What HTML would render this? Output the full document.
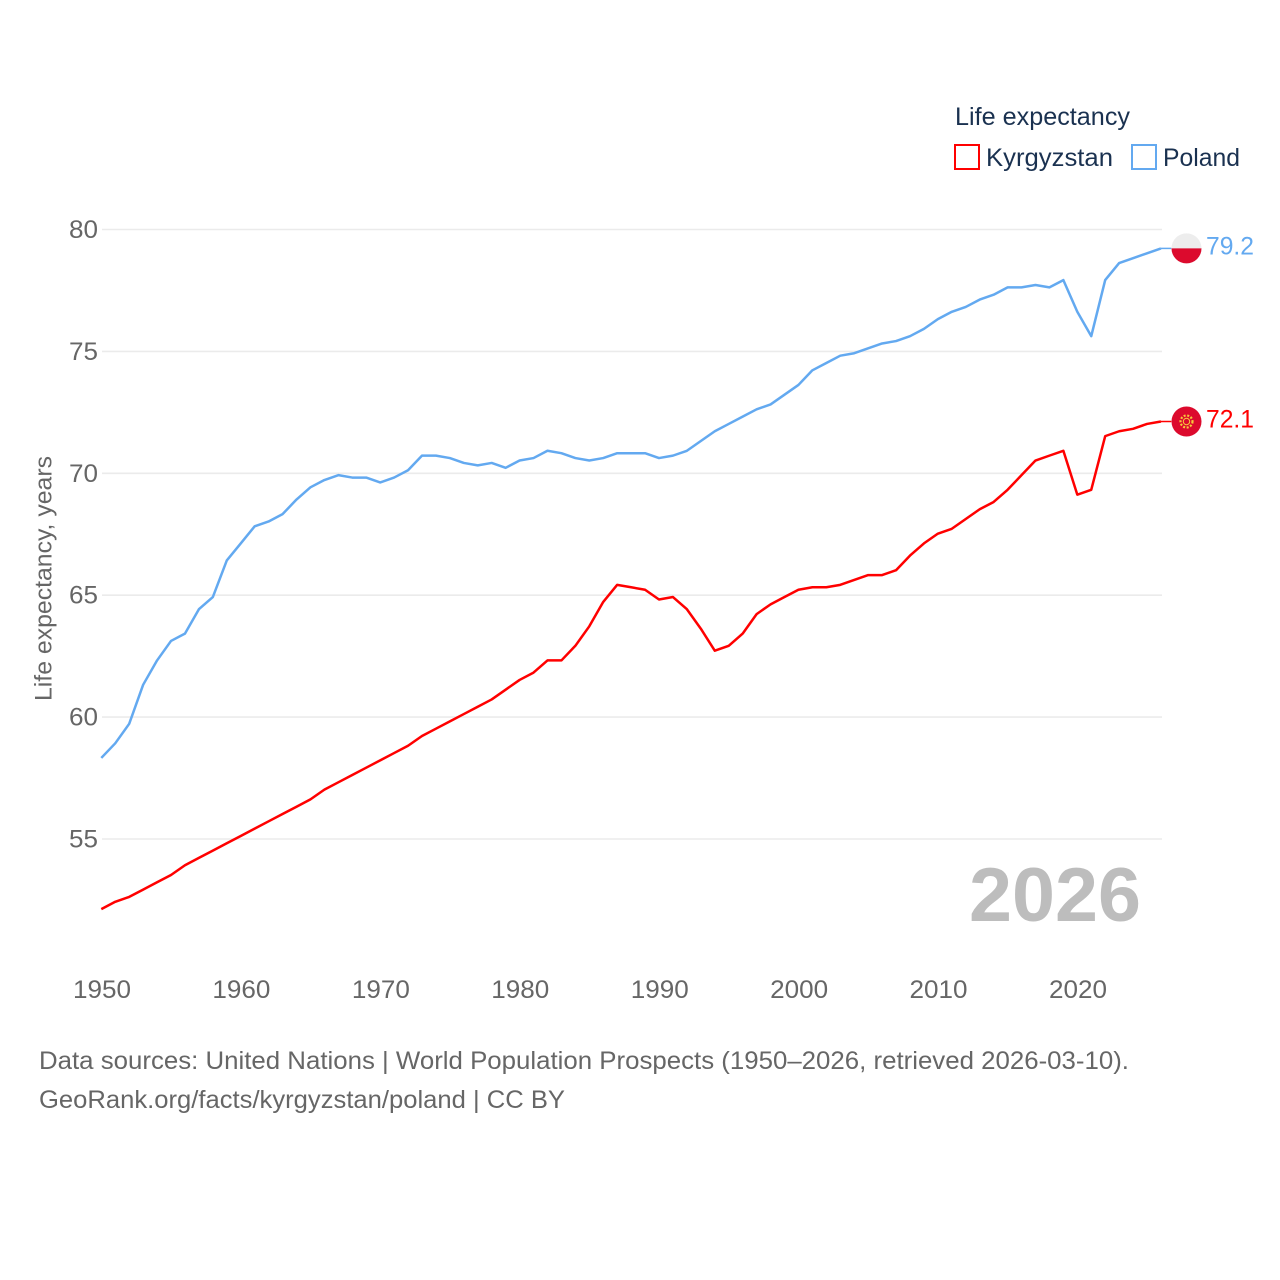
<!DOCTYPE html>
<html lang="en">
<head>
<meta charset="utf-8">
<title>Life expectancy: Kyrgyzstan and Poland</title>
<style>
html,body{margin:0;padding:0;background:#fff;}
svg{display:block;font-family:"Liberation Sans",sans-serif;}
</style>
</head>
<body>
<svg id="chart" xmlns="http://www.w3.org/2000/svg" width="1280" height="1280" viewBox="0 0 1280 1280">
  <rect width="1280" height="1280" fill="#ffffff"/>
  <g id="grid"></g>
  <g id="yticks"></g>
  <g id="xticks"></g>
  <text transform="translate(51.5,701) rotate(-90)" font-size="24" fill="#666666" textLength="245" lengthAdjust="spacingAndGlyphs">Life expectancy, years</text>
  <text x="969" y="921" font-size="76" font-weight="700" fill="#bdbdbd" textLength="172" lengthAdjust="spacingAndGlyphs">2026</text>
  <g id="series" transform="translate(-0.7,-0.6)"></g>
  <g id="flag-poland" transform="translate(0,-0.6)"></g>
  <g id="flag-kyrgyzstan" transform="translate(0,-0.6)"></g>
  <g id="end-labels"></g>
  <g>
    <text x="955" y="125" font-size="25" fill="#1a3150" textLength="175" lengthAdjust="spacingAndGlyphs">Life expectancy</text>
    <rect x="955" y="145" width="24" height="24" fill="#ffffff" stroke="#ff0000" stroke-width="2"/>
    <text x="986" y="166" font-size="25" fill="#1a3150" textLength="127" lengthAdjust="spacingAndGlyphs">Kyrgyzstan</text>
    <rect x="1132" y="145" width="24" height="24" fill="#ffffff" stroke="#63a9f0" stroke-width="2"/>
    <text x="1163" y="166" font-size="25" fill="#1a3150" textLength="77" lengthAdjust="spacingAndGlyphs">Poland</text>
  </g>
  <text x="39" y="1069" font-size="25" fill="#666666" textLength="1090" lengthAdjust="spacingAndGlyphs">Data sources: United Nations | World Population Prospects (1950–2026, retrieved 2026-03-10).</text>
  <text x="39" y="1108" font-size="25" fill="#666666" textLength="526" lengthAdjust="spacingAndGlyphs">GeoRank.org/facts/kyrgyzstan/poland | CC BY</text>
</svg>
<script>
const startYear = 1950;
const yTickValues = [55, 60, 65, 70, 75, 80];
const xTickValues = [1950, 1960, 1970, 1980, 1990, 2000, 2010, 2020];
const polandValues = [
  58.3, 58.9, 59.7, 61.3, 62.3, 63.1, 63.4, 64.4, 64.9, 66.4,
  67.1, 67.8, 68.0, 68.3, 68.9, 69.4, 69.7, 69.9, 69.8, 69.8,
  69.6, 69.8, 70.1, 70.7, 70.7, 70.6, 70.4, 70.3, 70.4, 70.2,
  70.5, 70.6, 70.9, 70.8, 70.6, 70.5, 70.6, 70.8, 70.8, 70.8,
  70.6, 70.7, 70.9, 71.3, 71.7, 72.0, 72.3, 72.6, 72.8, 73.2,
  73.6, 74.2, 74.5, 74.8, 74.9, 75.1, 75.3, 75.4, 75.6, 75.9,
  76.3, 76.6, 76.8, 77.1, 77.3, 77.6, 77.6, 77.7, 77.6, 77.9,
  76.6, 75.6, 77.9, 78.6, 78.8, 79.0, 79.2
];
const kyrgyzstanValues = [
  52.1, 52.4, 52.6, 52.9, 53.2, 53.5, 53.9, 54.2, 54.5, 54.8,
  55.1, 55.4, 55.7, 56.0, 56.3, 56.6, 57.0, 57.3, 57.6, 57.9,
  58.2, 58.5, 58.8, 59.2, 59.5, 59.8, 60.1, 60.4, 60.7, 61.1,
  61.5, 61.8, 62.3, 62.3, 62.9, 63.7, 64.7, 65.4, 65.3, 65.2,
  64.8, 64.9, 64.4, 63.6, 62.7, 62.9, 63.4, 64.2, 64.6, 64.9,
  65.2, 65.3, 65.3, 65.4, 65.6, 65.8, 65.8, 66.0, 66.6, 67.1,
  67.5, 67.7, 68.1, 68.5, 68.8, 69.3, 69.9, 70.5, 70.7, 70.9,
  69.1, 69.3, 71.5, 71.7, 71.8, 72.0, 72.1
];

const NS = 'http://www.w3.org/2000/svg';
const xScale = function (year) { return 102 + (year - 1950) * (1078 - 102) / 70; };
const yScale = function (v) { return 229.5 + (80 - v) * (839 - 229.5) / 25; };
const pointsFor = function (values) {
  return values.map(function (v, i) {
    return xScale(startYear + i).toFixed(2) + ',' + yScale(v).toFixed(2);
  });
};
const make = function (tag, parent, attrs) {
  const el = document.createElementNS(NS, tag);
  Object.keys(attrs).forEach(function (k) { el.setAttribute(k, attrs[k]); });
  parent.appendChild(el);
  return el;
};

const gridG = document.getElementById('grid');
const yG = document.getElementById('yticks');
yTickValues.forEach(function (v) {
  const y = yScale(v);
  const line = make('line', gridG, { x1: 102, x2: 1162, y1: y, y2: y, stroke: '#ebebeb', 'stroke-width': 1.6 });
  
  
  const t = make('text', yG, { x: 98, y: y + 8.5, 'text-anchor': 'end', 'font-size': 25, fill: '#666666', textLength: 29, lengthAdjust: 'spacingAndGlyphs' });
  t.textContent = String(v);
  
  
});

const xG = document.getElementById('xticks');
xTickValues.forEach(function (yr) {
  const t = make('text', xG, { x: xScale(yr), y: 998, 'text-anchor': 'middle', 'font-size': 25, fill: '#666666', textLength: 58, lengthAdjust: 'spacingAndGlyphs' });
  t.textContent = String(yr);
  
  
});

const seriesG = document.getElementById('series');
const polandLastY = yScale(polandValues[polandValues.length - 1]);
const kyrgyzLastY = yScale(kyrgyzstanValues[kyrgyzstanValues.length - 1]);

const polandLine = make('polyline', seriesG, { points: pointsFor(polandValues).join(' '), fill: 'none', stroke: '#63a9f0', 'stroke-width': 2.5, 'stroke-linejoin': 'round' });


const polandLink = make('line', seriesG, { x1: xScale(2026), x2: 1172, y1: polandLastY, y2: polandLastY, stroke: '#63a9f0', 'stroke-width': 1.5 });



const kyrgyzLine = make('polyline', seriesG, { points: pointsFor(kyrgyzstanValues).join(' '), fill: 'none', stroke: '#ff0000', 'stroke-width': 2.5, 'stroke-linejoin': 'round' });


const kyrgyzLink = make('line', seriesG, { x1: xScale(2026), x2: 1172, y1: kyrgyzLastY, y2: kyrgyzLastY, stroke: '#ff0000', 'stroke-width': 1.5 });



/* Poland flag */
const cx = 1186.5;
const pf = document.getElementById('flag-poland');
make('circle', pf, { cx: cx, cy: polandLastY, r: 15, fill: '#ededed' });
make('path', pf, { d: 'M' + (cx - 15) + ' ' + polandLastY + ' A15 15 0 0 0 ' + (cx + 15) + ' ' + polandLastY + ' Z', fill: '#dc0a2d' });

/* Kyrgyzstan flag */
const kf = document.getElementById('flag-kyrgyzstan');
make('circle', kf, { cx: cx, cy: kyrgyzLastY, r: 15, fill: '#dc0a2d' });
make('circle', kf, { cx: cx, cy: kyrgyzLastY, r: 3.2, fill: 'none', stroke: '#f6c83c', 'stroke-width': 1 });
make('circle', kf, { cx: cx, cy: kyrgyzLastY, r: 6, fill: 'none', stroke: '#f6c83c', 'stroke-width': 2.2, 'stroke-dasharray': '2 1.6' });

/* End labels */
const labelsG = document.getElementById('end-labels');
const polandLabel = make('text', labelsG, { x: 1206, y: polandLastY + 5.5, 'font-size': 25, fill: '#63a9f0', textLength: 48, lengthAdjust: 'spacingAndGlyphs' });
polandLabel.textContent = polandValues[polandValues.length - 1].toFixed(1);


const kyrgyzLabel = make('text', labelsG, { x: 1206, y: kyrgyzLastY + 5.5, 'font-size': 25, fill: '#ff0000', textLength: 48, lengthAdjust: 'spacingAndGlyphs' });
kyrgyzLabel.textContent = kyrgyzstanValues[kyrgyzstanValues.length - 1].toFixed(1);


</script>
</body>
</html>
